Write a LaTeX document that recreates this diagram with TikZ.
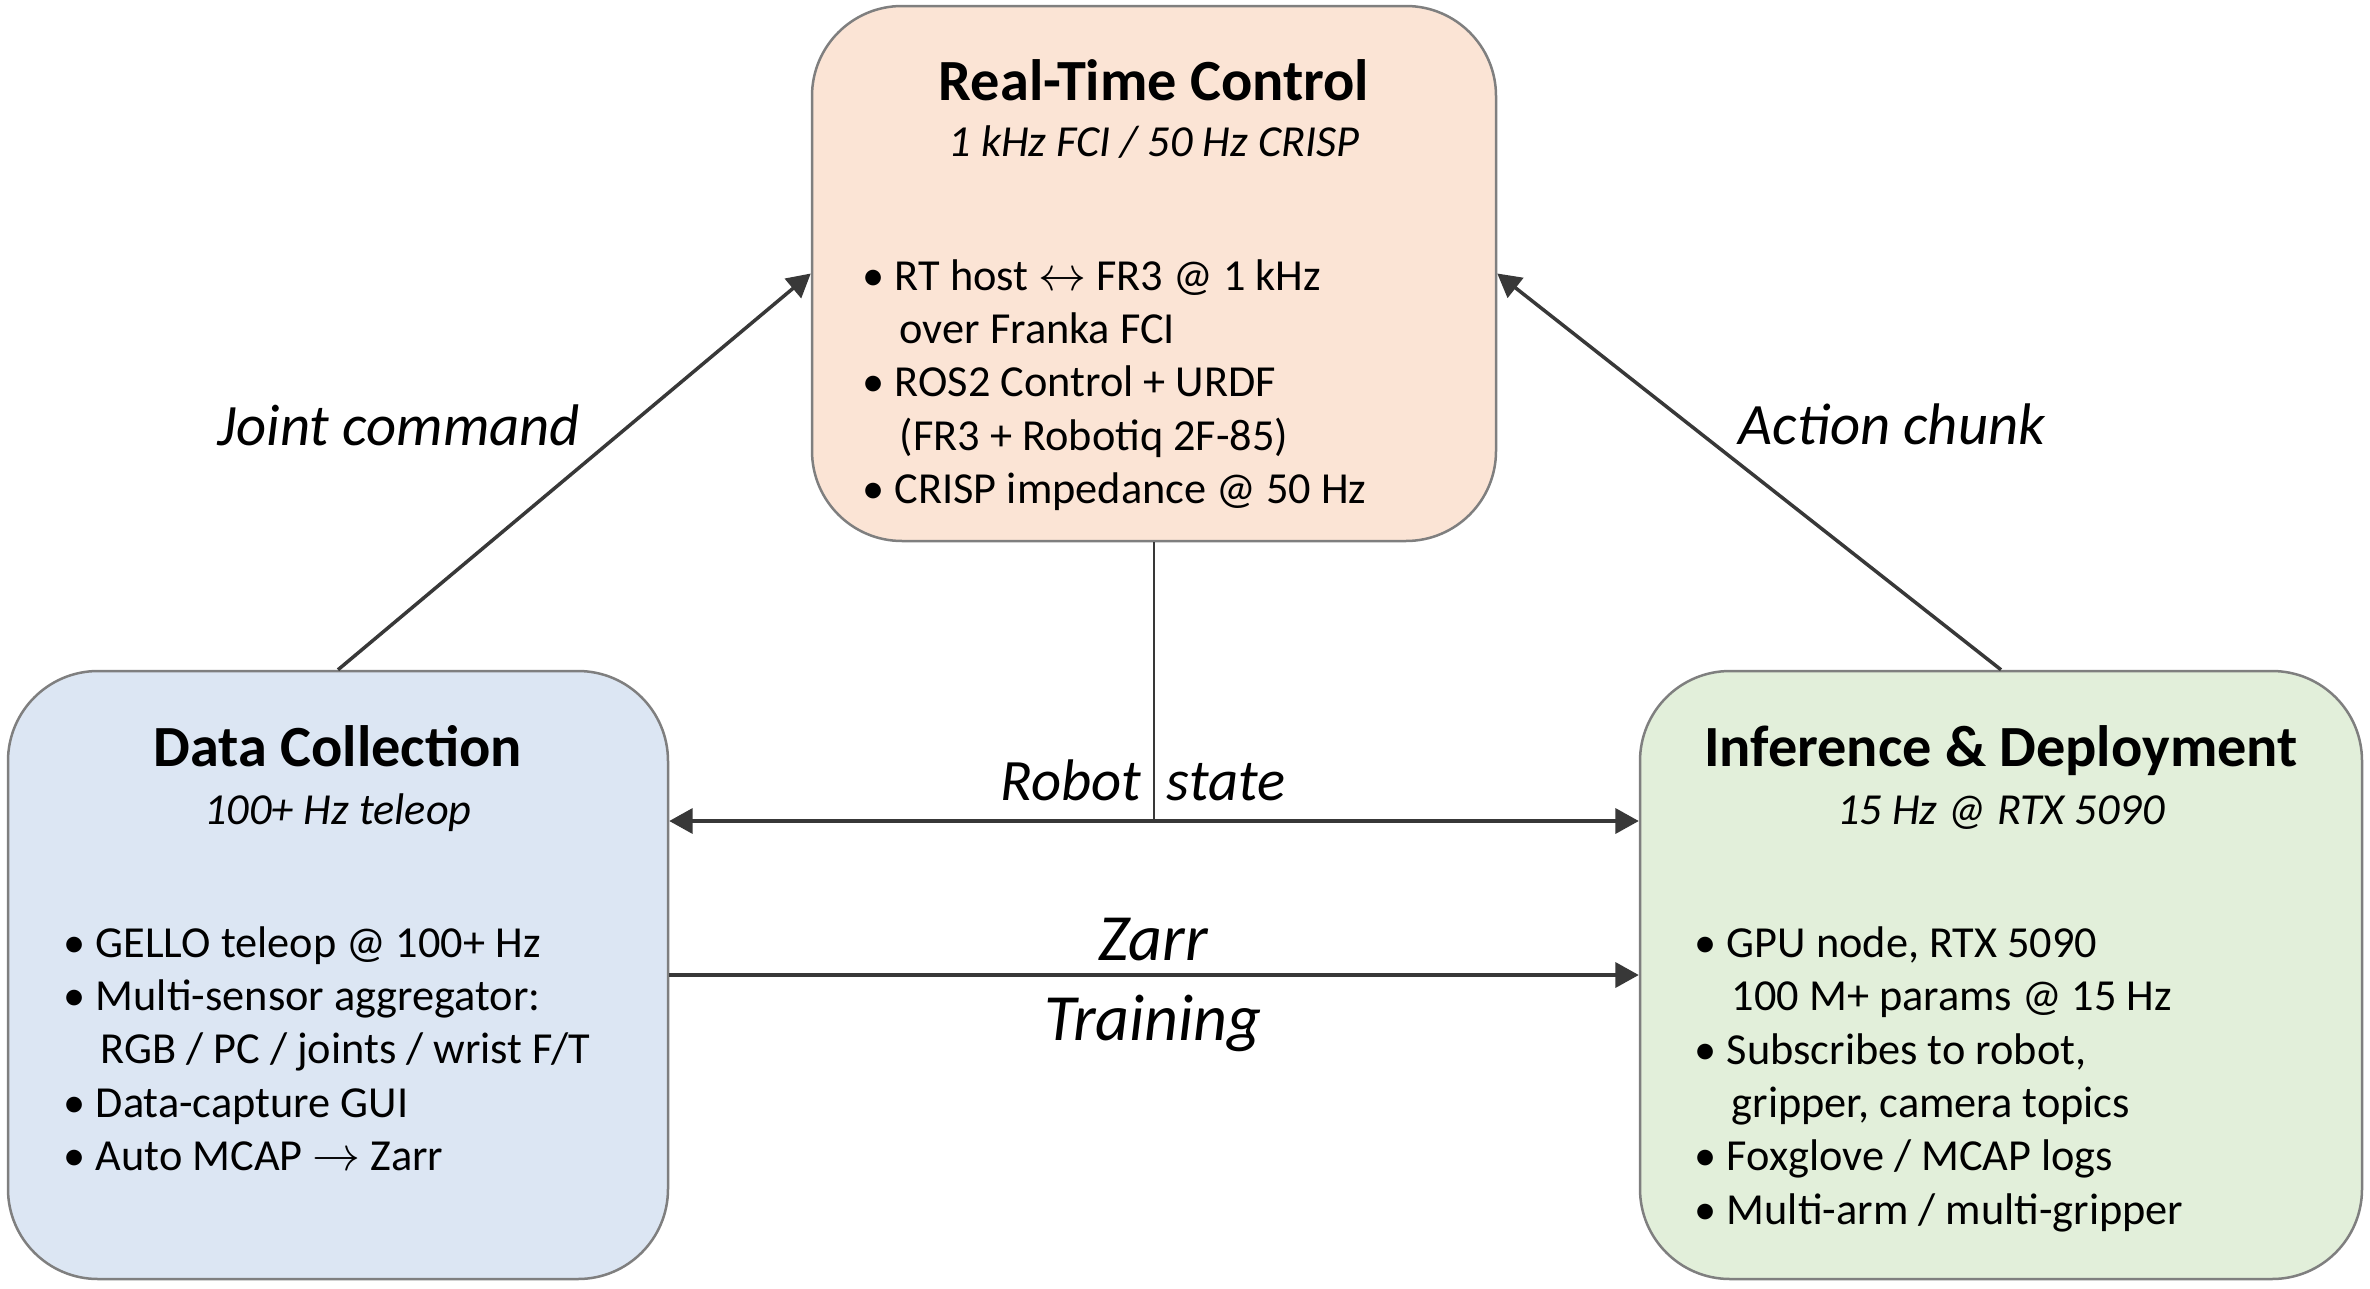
\documentclass[tikz,border=0pt]{standalone}
\usepackage{fontspec}
\setmainfont{Carlito}
\usetikzlibrary{arrows.meta,calc}
\definecolor{rtfill}{HTML}{FBE4D5}
\definecolor{dcfill}{HTML}{DCE6F3}
\definecolor{infill}{HTML}{E2EFDA}
\definecolor{bord}{HTML}{7F7F7F}
\definecolor{arr}{HTML}{383838}
\newcommand{\cnt}{\hphantom{\textbullet\ }\hspace{1.5pt}}
\begin{document}
\begin{tikzpicture}[x=0.3pt,y=-0.3pt,
  box/.style={draw=bord, line width=0.75pt, rounded corners=27pt, inner sep=0pt},
  ttl/.style={anchor=base, inner sep=0pt, font=\fontsize{17.5}{21}\selectfont\bfseries},
  subt/.style={anchor=base, inner sep=0pt, font=\fontsize{13.3}{16}\selectfont\itshape},
  blist/.style={anchor=base west, inner sep=0pt, align=left, font=\fontsize{13.3}{16}\selectfont},
  lbl/.style={anchor=base, inner sep=0pt, font=\fontsize{17.6}{21}\selectfont\itshape},
  biglbl/.style={anchor=base, inner sep=0pt, font=\fontsize{19.8}{24}\selectfont\itshape},
  tip/.tip={Triangle[length=7pt,width=7.5pt]},
  conn/.style={draw=arr, line width=1.05pt, -tip},
  hconn/.style={draw=arr, line width=1pt},
  stem/.style={draw=arr, line width=0.6pt}]
\useasboundingbox (0,0) rectangle (2370,1288);

% boxes
\node[box, fill=rtfill, minimum width=205.2pt, minimum height=160.5pt] (rt) at (1154,273.5) {};
\node[box, fill=dcfill, minimum width=198pt, minimum height=182.4pt] (dc) at (338,975) {};
\node[box, fill=infill, minimum width=216.6pt, minimum height=182.4pt] (inf) at (2001,975) {};

% real-time control text (anchor = baseline of last line)
\node[ttl] (rtT) at (1154,101) {Real-Time Control};
\node[subt] (rtS) at (1154,156) {1 kHz FCI / 50 Hz CRISP};
\node[blist] (rtB) at (862,503.5) {\textbullet\ RT host $\leftrightarrow$ FR3 @ 1 kHz\\
\cnt over Franka FCI\\
\textbullet\ ROS2 Control + URDF\\
\cnt (FR3 + Robotiq 2F-85)\\
\textbullet\ CRISP impedance @ 50 Hz};

% data collection text
\node[ttl] (dcT) at (338,766) {Data Collection};
\node[subt] (dcS) at (338,824) {100+ Hz teleop};
\node[blist] (dcB) at (63,1170.5) {\textbullet\ GELLO teleop @ 100+ Hz\\
\textbullet\ Multi-sensor aggregator:\\
\cnt RGB / PC / joints / wrist F/T\\
\textbullet\ Data-capture GUI\\
\textbullet\ Auto MCAP $\rightarrow$ Zarr};

% inference text
\node[ttl] (infT) at (2001,766) {Inference \& Deployment};
\node[subt] (infS) at (2001,824) {15 Hz @ RTX 5090};
\node[blist] (infB) at (1694,1224) {\textbullet\ GPU node, RTX 5090\\
\cnt 100 M+ params @ 15 Hz\\
\textbullet\ Subscribes to robot,\\
\cnt gripper, camera topics\\
\textbullet\ Foxglove / MCAP logs\\
\textbullet\ Multi-arm / multi-gripper};

% connectors
\draw[conn] (dc.north) -- (rt.west);
\draw[conn] (inf.north) -- (rt.east);
\coordinate (rsy) at ($(dc.east)+(0,-154)$);
\draw[stem] (rt.south) -- (rt.south |- rsy);
\draw[hconn, tip-tip] (rsy) -- (rsy -| inf.west);
\draw[hconn, -tip] (dc.east) -- (inf.west);

% labels
\node[lbl] (jc) at (399,445) {Joint command};
\node[lbl] (ac) at (1892,444) {Action chunk};
\node[lbl] (rs) at (1143,800) {Robot\hspace{7.7pt}state};
\node[biglbl] (za) at (1153,960) {Zarr};
\node[biglbl] (tr) at (1153,1040) {Training};
\end{tikzpicture}
\end{document}
